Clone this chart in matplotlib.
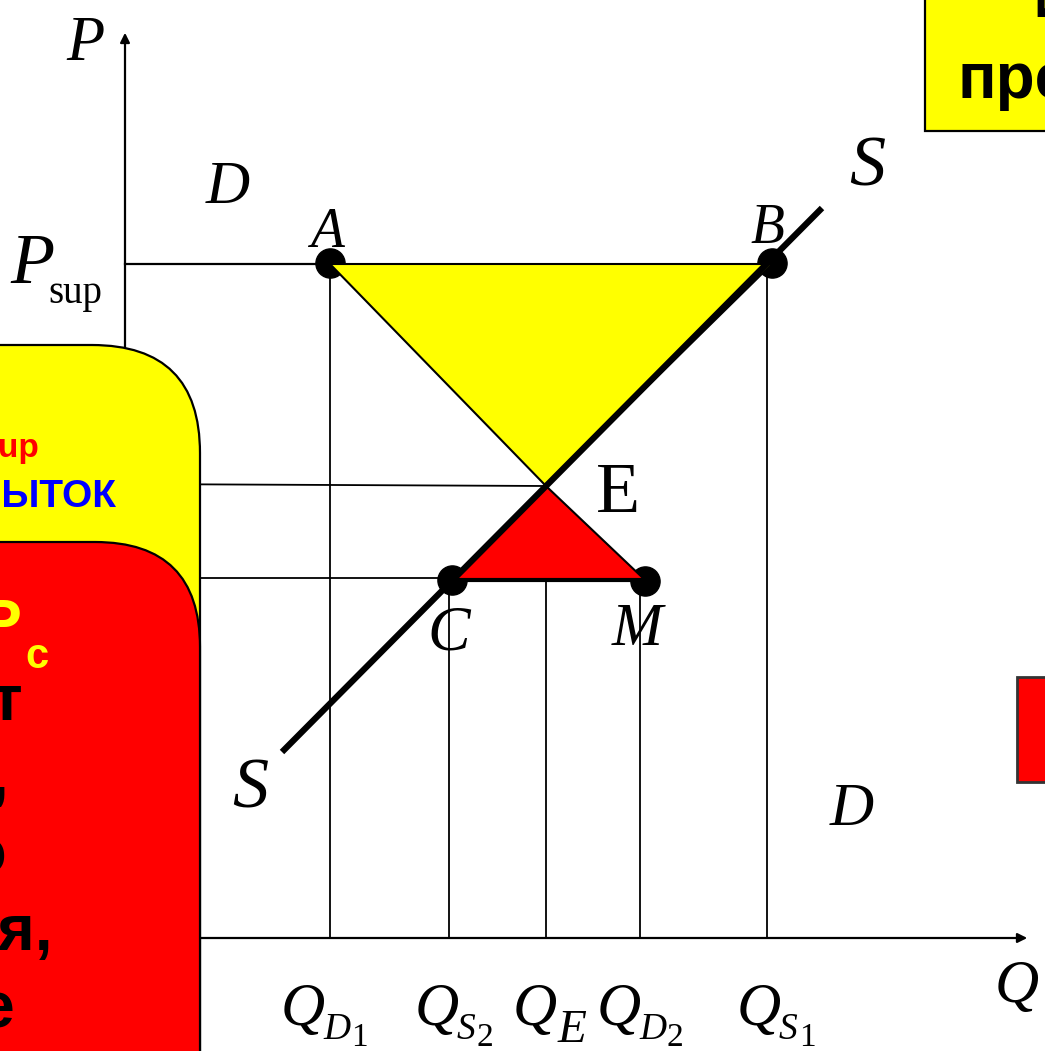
import matplotlib
matplotlib.use('Agg')
import matplotlib.pyplot as plt
from matplotlib.patches import FancyBboxPatch, Rectangle, Polygon

# diagram data (pixel-like units, y grows downward)
q_vals = [330, 451, 546, 642, 769]          # Q_D1, Q_S2, Q_E, Q_D2, Q_S1
q_subs = ['D', 'S', 'E', 'D', 'S']
q_nums = ['1', '2', '', '2', '1']
q_label_x = [281, 415, 513, 597, 737]
p_sup, p_e, p_c = 264, 486, 580
q_axis_y, p_axis_x, p_axis_top, q_axis_end = 938, 125, 30, 1030
supply_q = [282, 822]
supply_p = [752, 208]
point_names = ['A', 'B', 'C', 'M']
point_q = [330, 772, 452, 645]
point_p = [263, 263, 580, 581]

SERIF = 'Liberation Serif'
SANS = 'Liberation Sans'
SUB_W = {'D': 27, 'S': 19}

fig = plt.figure(figsize=(10.45, 10.51), dpi=100)
ax = fig.add_axes([0, 0, 1, 1])
ax.set_xlim(0, 1045)
ax.set_ylim(1051, 0)
ax.axis('off')

# axes arrows
ax.annotate('', xy=(p_axis_x, p_axis_top), xytext=(p_axis_x, q_axis_y),
            arrowprops=dict(arrowstyle='-|>', color='black', lw=1.6,
                            mutation_scale=14), zorder=1)
ax.annotate('', xy=(q_axis_end, q_axis_y), xytext=(p_axis_x, q_axis_y),
            arrowprops=dict(arrowstyle='-|>', color='black', lw=1.6,
                            mutation_scale=14), zorder=1)

# guide lines
ax.plot([p_axis_x, q_vals[0]], [p_sup, p_sup], color='black', lw=1.6, zorder=1)
ax.plot([p_axis_x, q_vals[2]], [p_e - 2, p_e], color='black', lw=1.3, zorder=1)
ax.plot([p_axis_x, q_vals[1]], [p_c - 2, p_c - 2], color='black', lw=1.3, zorder=1)
ax.plot([q_vals[0], q_vals[0]], [p_sup, q_axis_y], color='black', lw=1.3, zorder=1)
ax.plot([q_vals[4] - 2, q_vals[4] - 2], [p_sup, q_axis_y], color='black', lw=1.3, zorder=1)
ax.plot([q_vals[1] - 2, q_vals[1] - 2], [p_c, q_axis_y], color='black', lw=1.3, zorder=1)
ax.plot([q_vals[2], q_vals[2]], [p_c, q_axis_y], color='black', lw=1.3, zorder=1)
ax.plot([q_vals[3] - 2, q_vals[3] - 2], [p_c, q_axis_y], color='black', lw=1.3, zorder=1)

# points
ax.plot(point_q, point_p, 'o', color='black', ms=21, zorder=2)

# surplus (yellow) and deficit (red) triangles
ax.add_patch(Polygon([(q_vals[0], p_sup), (point_q[1], p_sup), (q_vals[2], p_e)],
                     closed=True, facecolor='#ffff00', edgecolor='black',
                     lw=1.5, zorder=3))
ax.add_patch(Polygon([(q_vals[2], p_e), (point_q[2], p_c), (point_q[3], p_c)],
                     closed=True, facecolor='#ff0000', edgecolor='black',
                     lw=1.5, zorder=3))
ax.plot([point_q[2], point_q[3]], [p_c, p_c], color='black', lw=3, zorder=3)

# supply line
ax.plot(supply_q, supply_p, color='black', lw=4.5, solid_capstyle='butt', zorder=4)


def lbl(x, y, s, size, style='italic', ha='center'):
    ax.text(x, y, s, fontsize=size, family=SERIF, style=style,
            ha=ha, va='baseline', zorder=6)


lbl(85, 60, 'P', 45)
lbl(228, 203, 'D', 44)
lbl(327, 247, 'A', 40)
lbl(767, 243, 'B', 40)
lbl(867, 185, 'S', 52)
lbl(618, 512, 'E', 52, style='normal')
lbl(449, 650, 'C', 46)
lbl(637, 645, 'M', 44)
lbl(250, 808, 'S', 52)
lbl(852, 825, 'D', 44)

# P_sup
lbl(10, 283, 'P', 52, ha='left')
lbl(48, 303, 'sup', 28, style='normal', ha='left')

# Q labels: Q, italic subscript letter, upright digit
for x, sub, num in zip(q_label_x, q_subs, q_nums):
    lbl(x, 1025, 'Q', 44, ha='left')
    if num:
        lbl(x + 42, 1039, sub, 27, ha='left')
        lbl(x + 43 + SUB_W[sub], 1046, num, 24, style='normal', ha='left')
    else:
        lbl(x + 45, 1042, sub, 34, ha='left')
lbl(995, 1002, 'Q', 44, ha='left')

# left rounded boxes
ax.add_patch(FancyBboxPatch((-400, 345), 600, 900,
                            boxstyle='round,pad=0,rounding_size=108',
                            facecolor='#ffff00', edgecolor='black', lw=1.6, zorder=7))
ax.add_patch(FancyBboxPatch((-400, 542), 600, 900,
                            boxstyle='round,pad=0,rounding_size=105',
                            facecolor='#ff0000', edgecolor='black', lw=1.6, zorder=8))

ax.text(39, 457, 'Psup', fontsize=24, family=SANS, weight='bold', color='#ff0000',
        ha='right', va='baseline', zorder=9)
ax.text(116, 507, 'ИЗБЫТОК', fontsize=28, family=SANS, weight='bold', color='#0000ff',
        ha='right', va='baseline', zorder=9)
ax.text(22, 642, 'При Р', fontsize=44, family=SANS, weight='bold', color='#ffff00',
        ha='right', va='baseline', zorder=9)
ax.text(25, 668, 'c', fontsize=30, family=SANS, weight='bold', color='#ffff00',
        ha='left', va='baseline', zorder=9)
red_lines = ['дефицит', 'очереди,', 'много', 'спекуляция,', 'прочие']
red_right = [23, 9, 7, 53, 15]
red_base = [720, 797, 874, 950, 1027]
for s, x, y in zip(red_lines, red_right, red_base):
    ax.text(x, y, s, fontsize=46, family=SANS, weight='bold', color='black',
            ha='right', va='baseline', zorder=9)

# top right yellow note
ax.add_patch(Rectangle((925, -100), 200, 231, facecolor='#ffff00', edgecolor='black',
                       lw=1.6, zorder=7))
ax.text(1033, 17, 'Избыток', fontsize=40, family=SANS, weight='bold', color='black',
        ha='left', va='baseline', zorder=9)
ax.text(957, 98, 'превышение', fontsize=46, family=SANS, weight='bold', color='black',
        ha='left', va='baseline', zorder=9)

# right red box
ax.add_patch(Rectangle((1017, 677), 100, 105, facecolor='#ff0000', edgecolor='#333333',
                       lw=2, zorder=7))

fig.savefig('out.png', dpi=100)
